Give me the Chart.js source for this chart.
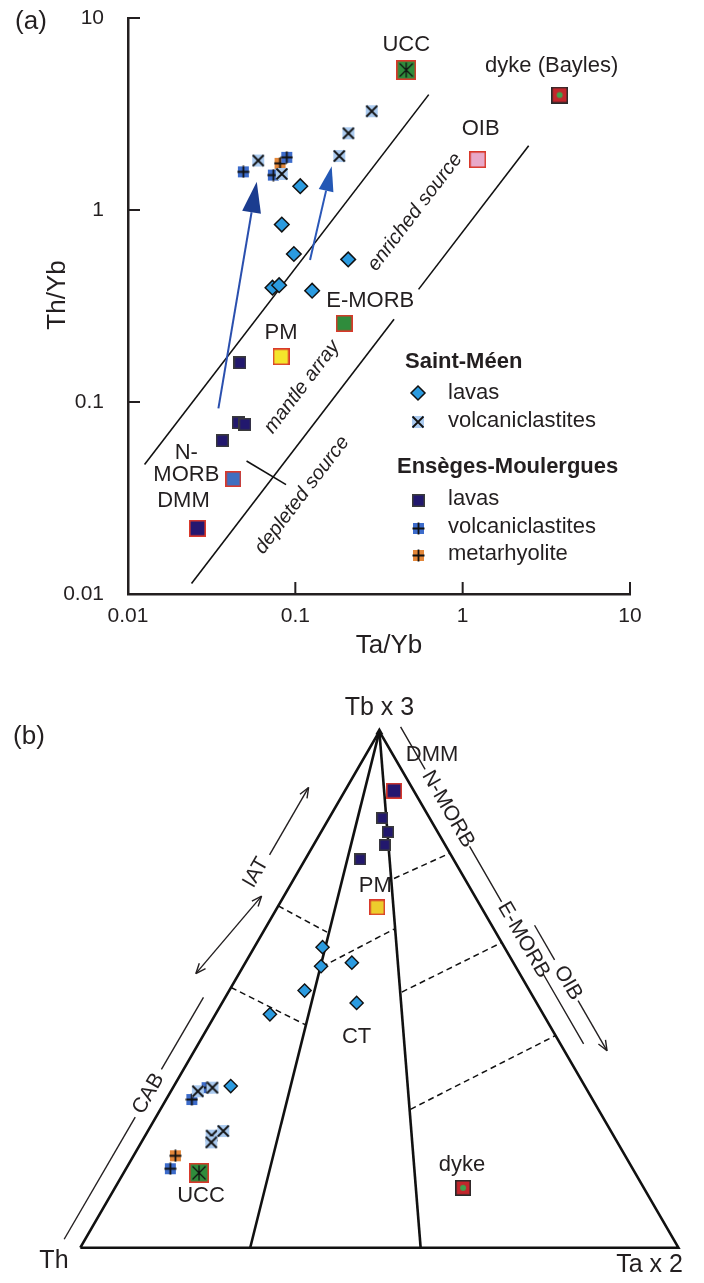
<!DOCTYPE html>
<html>
<head>
<meta charset="utf-8">
<title>Th/Yb vs Ta/Yb and Th - Tb x 3 - Ta x 2 diagrams</title>
<script src="https://cdn.jsdelivr.net/npm/chart.js@4.4.1/dist/chart.umd.min.js"></script>
<style>
  html, body { margin: 0; padding: 0; background: #fff; }
  .panel { position: absolute; left: 0; width: 704px; }
  #boxA { top: 0; height: 660px; }
  #boxB { top: 660px; height: 623px; }
</style>
</head>
<body>
<div class="panel" id="boxA"><canvas id="chartA"></canvas></div>
<div class="panel" id="boxB"><canvas id="chartB"></canvas></div>
<script>
// ---------- panel (a): Th/Yb vs Ta/Yb ----------
const axisTicks = [0.01, 0.1, 1, 10];
const axisTickLabels = ['0.01', '0.1', '1', '10'];

// Saint-Méen
const smLavaTa = [0.107, 0.083, 0.098, 0.207, 0.073, 0.080, 0.126];
const smLavaTh = [1.33, 0.84, 0.59, 0.553, 0.394, 0.406, 0.38];
const smVolcTa = [0.060, 0.083, 0.183, 0.2075, 0.286];
const smVolcTh = [1.81, 1.54, 1.91, 2.51, 3.27];
// Ensèges-Moulergues
const emLavaTa = [0.0467, 0.0456, 0.050, 0.0366];
const emLavaTh = [0.160, 0.078, 0.0765, 0.0629];
const emVolcTa = [0.0489, 0.0889, 0.0739];
const emVolcTh = [1.58, 1.88, 1.52];
const metaTa = [0.081];
const metaTh = [1.75];
// reference compositions
const refNames = ['UCC', 'dyke (Bayles)', 'OIB', 'E-MORB', 'PM', 'N-\nMORB', 'DMM'];
const refTa = [0.46, 3.80, 1.23, 0.196, 0.0821, 0.0426, 0.026];
const refTh = [5.36, 3.97, 1.83, 0.257, 0.172, 0.0397, 0.022];
// mantle array limits
const upperArrayTa = [0.01256, 0.627];
const upperArrayTh = [0.0473, 3.99];
const lowerArrayTa = [0.02397, 0.389];
const lowerArrayTh = [0.01133, 0.270];
const lowerArray2Ta = [0.545, 2.48];
const lowerArray2Th = [0.386, 2.16];
const splitTa = [0.0511, 0.0880];
const splitTh = [0.0493, 0.0371];
// blue trend arrows
const arrowTailTa = [0.0347, 0.1224];
const arrowTailTh = [0.0927, 0.549];
const arrowTipTa = [0.0588, 0.165];
const arrowTipTh = [1.405, 1.69];

// ---------- panel (b): Th - Tb x 3 - Ta x 2, as [Th, Tb*3, Ta*2] fractions ----------
const smLavaTern = [[0.304, 0.582, 0.114], [0.325, 0.545, 0.130], [0.270, 0.552, 0.178], [0.376, 0.498, 0.126],
                    [0.301, 0.474, 0.225], [0.457, 0.452, 0.091], [0.592, 0.313, 0.095]];
const smVolcTern = [[0.652, 0.303, 0.045], [0.624, 0.310, 0.066], [0.672, 0.217, 0.111], [0.648, 0.226, 0.126],
                    [0.679, 0.204, 0.117]];
const emLavaTern = [[0.079, 0.832, 0.089], [0.083, 0.805, 0.112], [0.101, 0.780, 0.119], [0.156, 0.752, 0.092]];
const emVolcTern = [[0.633, 0.310, 0.057], [0.670, 0.287, 0.043], [0.773, 0.153, 0.074]];
const metaTern = [[0.752, 0.178, 0.070]];
const refTernNames = ['DMM', 'PM', 'UCC', 'dyke'];
const refTern = [[0.033, 0.885, 0.082], [0.174, 0.659, 0.167], [0.729, 0.145, 0.126], [0.302, 0.116, 0.582]];
// field boundaries
const triangleTern = [[1, 0, 0], [0, 1, 0], [0, 0, 1], [1, 0, 0]];
const innerLinesTern = [[[0, 1, 0], [0.716, 0, 0.284]], [[0, 1, 0], [0.431, 0, 0.569]]];
const dashedTern = [
  [[0.338, 0.662, 0], [0.282, 0.611, 0.107]],
  [[0.496, 0.504, 0], [0.408, 0.432, 0.160]],
  [[0.324, 0.544, 0.132], [0.167, 0.617, 0.216]],
  [[0.118, 0.715, 0.167], [0, 0.764, 0.236]],
  [[0.215, 0.495, 0.290], [0, 0.591, 0.409]],
  [[0.314, 0.268, 0.418], [0, 0.411, 0.589]]
];

const FONT = '"Liberation Sans", Arial, Helvetica, sans-serif';
const INK = '#231f20';
const RED_EDGE = '#d9392b';

function makeMarker(size, draw) {
  const c = document.createElement('canvas');
  c.width = size; c.height = size;
  draw(c.getContext('2d'), size);
  return c;
}
function boxMarker(size, fill, edge, lw, extra) {
  return makeMarker(size, (g, s) => {
    g.fillStyle = fill;
    g.fillRect(0, 0, s, s);
    if (edge) { g.strokeStyle = edge; g.lineWidth = lw; g.strokeRect(lw / 2, lw / 2, s - lw, s - lw); }
    if (extra) extra(g, s);
  });
}
function crossMarker(size, fill, rotated) {
  return makeMarker(size, (g, s) => {
    g.fillStyle = fill;
    g.fillRect(1, 1, s - 2, s - 2);
    g.strokeStyle = '#111'; g.lineWidth = 1.8;
    g.beginPath();
    if (rotated) {
      g.moveTo(1.5, 1.5); g.lineTo(s - 1.5, s - 1.5);
      g.moveTo(s - 1.5, 1.5); g.lineTo(1.5, s - 1.5);
    } else {
      g.moveTo(s / 2, 0.5); g.lineTo(s / 2, s - 0.5);
      g.moveTo(0.5, s / 2); g.lineTo(s - 0.5, s / 2);
    }
    g.stroke();
  });
}
const uccStar = (g, s) => {
  g.strokeStyle = '#111'; g.lineWidth = 1.3;
  g.beginPath();
  g.moveTo(3.5, 3.5); g.lineTo(s - 3.5, s - 3.5);
  g.moveTo(s - 3.5, 3.5); g.lineTo(3.5, s - 3.5);
  g.moveTo(s / 2, 2.5); g.lineTo(s / 2, s - 2.5);
  g.stroke();
};
const dykeDot = (g, s) => {
  g.fillStyle = '#3fa34d';
  g.beginPath(); g.arc(s / 2, s / 2, 3, 0, Math.PI * 2); g.fill();
};

const mk = {
  smVolc: crossMarker(14, '#abcbf0', true),
  emVolc: crossMarker(13, '#3d6ccb', false),
  meta: crossMarker(13, '#e3873a', false),
  emLava: boxMarker(13, '#22186e', '#3a3a3a', 1.5),
  emLavaB: boxMarker(12, '#22186e', '#3a3a3a', 1.5)
};
const refMarkersA = [
  boxMarker(20, '#2f8c3c', RED_EDGE, 1.6, uccStar),
  boxMarker(17, '#c3262c', '#2a2a2a', 1.6, dykeDot),
  boxMarker(17, '#e8a9c9', RED_EDGE, 1.6),
  boxMarker(17, '#2f8c3c', RED_EDGE, 1.6),
  boxMarker(17, '#f5e52b', RED_EDGE, 1.6),
  boxMarker(16, '#3f6fc0', RED_EDGE, 1.6),
  boxMarker(17, '#251770', RED_EDGE, 1.6)
];
const refMarkersB = [
  boxMarker(16, '#251770', RED_EDGE, 1.6),
  boxMarker(16, '#edcd2c', RED_EDGE, 1.6),
  boxMarker(20, '#2f8c3c', RED_EDGE, 1.6, uccStar),
  boxMarker(16, '#c3262c', '#2a2a2a', 1.6, dykeDot)
];

const pairs = (xs, ys) => xs.map((v, i) => ({ x: v, y: ys[i] }));
const pointSet = (data, style, extra) => Object.assign({
  data, pointStyle: style, pointRadius: 7, showLine: false, order: 1
}, extra || {});
const lineSet = (data, extra) => Object.assign({
  data, showLine: true, pointRadius: 0, borderColor: '#111', borderWidth: 1.6, fill: false, order: 5
}, extra || {});

function text(ctx, str, x, y, opt) {
  opt = opt || {};
  ctx.save();
  ctx.font = opt.font || `22px ${FONT}`;
  ctx.fillStyle = INK;
  ctx.textAlign = opt.align || 'center';
  ctx.textBaseline = 'middle';
  ctx.translate(x, y);
  if (opt.rot) ctx.rotate(opt.rot * Math.PI / 180);
  const lines = String(str).split('\n');
  lines.forEach((t, i) => ctx.fillText(t, 0, (i - (lines.length - 1) / 2) * (opt.lh || 22)));
  ctx.restore();
}
function solidArrow(ctx, x1, y1, x2, y2, len, wid, shaft, head) {
  const a = Math.atan2(y2 - y1, x2 - x1);
  const bx = x2 - len * Math.cos(a), by = y2 - len * Math.sin(a);
  ctx.save();
  ctx.strokeStyle = shaft; ctx.lineWidth = 2;
  ctx.beginPath(); ctx.moveTo(x1, y1); ctx.lineTo(bx, by); ctx.stroke();
  ctx.fillStyle = head;
  ctx.beginPath();
  ctx.moveTo(x2, y2);
  ctx.lineTo(bx + wid / 2 * Math.sin(a), by - wid / 2 * Math.cos(a));
  ctx.lineTo(bx - wid / 2 * Math.sin(a), by + wid / 2 * Math.cos(a));
  ctx.closePath(); ctx.fill();
  ctx.restore();
}
// thin line with open arrow heads at the chosen ends
function thinArrow(ctx, p, q, headP, headQ) {
  ctx.beginPath(); ctx.moveTo(p[0], p[1]); ctx.lineTo(q[0], q[1]); ctx.stroke();
  const heads = [];
  if (headQ) heads.push([q, Math.atan2(q[1] - p[1], q[0] - p[0])]);
  if (headP) heads.push([p, Math.atan2(p[1] - q[1], p[0] - q[0])]);
  heads.forEach(([t, ang]) => {
    ctx.beginPath();
    [ang + Math.PI - 0.38, ang + Math.PI + 0.38].forEach(b => {
      ctx.moveTo(t[0], t[1]); ctx.lineTo(t[0] + 11 * Math.cos(b), t[1] + 11 * Math.sin(b));
    });
    ctx.stroke();
  });
}

// label offsets (pixels) for the reference points of panel (a)
const refLabelShiftA = [[0, -25], [-8, -29], [3, -31], [26, -22], [0, -24], [-47, -15], [-14, -27]];
const ARRAY_ANGLE = -52.6;

const panelADeco = {
  id: 'panelADeco',
  afterDatasetsDraw(chart) {
    const { ctx, scales: { x, y }, chartArea: ca } = chart;
    const px = v => x.getPixelForValue(v), py = v => y.getPixelForValue(v);
    // inward tick marks
    ctx.save();
    ctx.strokeStyle = INK; ctx.lineWidth = 2;
    ctx.beginPath();
    axisTicks.slice(1).forEach(v => {
      ctx.moveTo(ca.left, py(v)); ctx.lineTo(ca.left + 12, py(v));
      ctx.moveTo(px(v), ca.bottom); ctx.lineTo(px(v), ca.bottom - 12);
    });
    ctx.stroke();
    ctx.restore();
    // blue arrows
    solidArrow(ctx, px(arrowTailTa[0]), py(arrowTailTh[0]), px(arrowTipTa[0]), py(arrowTipTh[0]), 31, 19, '#2a4fae', '#1b3c8f');
    solidArrow(ctx, px(arrowTailTa[1]), py(arrowTailTh[1]), px(arrowTipTa[1]), py(arrowTipTh[1]), 25, 15, '#2a57b8', '#2458b5');
    // reference labels
    refNames.forEach((n, i) => {
      const [dx, dy] = refLabelShiftA[i];
      text(ctx, n, px(refTa[i]) + dx, py(refTh[i]) + dy);
    });
    // field names
    const it = `italic 20px ${FONT}`;
    text(ctx, 'mantle array', 302, 387, { font: it, rot: ARRAY_ANGLE });
    text(ctx, 'enriched source', 415, 212, { font: it, rot: ARRAY_ANGLE });
    text(ctx, 'depleted source', 302, 495, { font: it, rot: ARRAY_ANGLE });
    // axis titles and panel tag
    text(ctx, '(a)', 31, 22, { font: `26px ${FONT}` });
    text(ctx, 'Ta/Yb', 389, 646, { font: `26px ${FONT}` });
    text(ctx, 'Th/Yb', 58, 295, { font: `26px ${FONT}`, rot: -90 });
    // legend
    const bold = `bold 22px ${FONT}`, reg = `22px ${FONT}`;
    text(ctx, 'Saint-Méen', 405, 362, { font: bold, align: 'left' });
    text(ctx, 'Ensèges-Moulergues', 397, 467, { font: bold, align: 'left' });
    const rows = [
      ['lavas', 393, 'diamond'], ['volcaniclastites', 421, mk.smVolc],
      ['lavas', 499, mk.emLava], ['volcaniclastites', 527, mk.emVolc], ['metarhyolite', 554, mk.meta]
    ];
    rows.forEach(([t, yy, m]) => {
      text(ctx, t, 448, yy, { font: reg, align: 'left' });
      if (m === 'diamond') {
        ctx.save();
        ctx.fillStyle = '#2b9be0'; ctx.strokeStyle = '#111'; ctx.lineWidth = 1.5;
        ctx.beginPath();
        ctx.moveTo(418, yy - 7); ctx.lineTo(425, yy); ctx.lineTo(418, yy + 7); ctx.lineTo(411, yy);
        ctx.closePath(); ctx.fill(); ctx.stroke();
        ctx.restore();
      } else {
        ctx.drawImage(m, Math.round(418 - m.width / 2), Math.round(yy + 1 - m.height / 2));
      }
    });
  }
};

const tickStyle = {
  autoSkip: false, maxRotation: 0, minRotation: 0, color: INK,
  font: { family: FONT, size: 21 },
  callback: v => { const i = axisTicks.indexOf(v); return i < 0 ? '' : axisTickLabels[i]; }
};

new Chart(document.getElementById('chartA'), {
  type: 'scatter',
  data: {
    datasets: [
      pointSet(pairs(smLavaTa, smLavaTh), 'rectRot', { pointRadius: 7.3, backgroundColor: '#2b9be0', borderColor: '#111', borderWidth: 1.5 }),
      pointSet(pairs(smVolcTa, smVolcTh), mk.smVolc),
      pointSet(pairs(emVolcTa, emVolcTh), mk.emVolc),
      pointSet(pairs(metaTa, metaTh), mk.meta),
      pointSet(pairs(emLavaTa, emLavaTh), mk.emLava),
      pointSet(pairs(refTa, refTh), refMarkersA),
      lineSet(pairs(upperArrayTa, upperArrayTh)),
      lineSet(pairs(lowerArrayTa, lowerArrayTh)),
      lineSet(pairs(lowerArray2Ta, lowerArray2Th)),
      lineSet(pairs(splitTa, splitTh))
    ]
  },
  options: {
    responsive: true, maintainAspectRatio: false, animation: false, events: [],
    layout: { padding: { left: 0, top: 18, right: 74, bottom: 0 } },
    plugins: { legend: { display: false }, tooltip: { enabled: false } },
    scales: {
      x: {
        type: 'logarithmic', min: 0.01, max: 10,
        afterBuildTicks: s => { s.ticks = axisTicks.map(v => ({ value: v })); },
        afterFit: s => { s.height = 66; },
        grid: { display: false, drawTicks: false },
        border: { display: true, color: INK, width: 2.5 },
        ticks: Object.assign({ padding: 10 }, tickStyle)
      },
      y: {
        type: 'logarithmic', min: 0.01, max: 10,
        afterBuildTicks: s => { s.ticks = axisTicks.map(v => ({ value: v })); },
        afterFit: s => { s.width = 128; s.paddingTop = 0; s.paddingBottom = 0; },
        grid: { display: false, drawTicks: false },
        border: { display: true, color: INK, width: 2.5 },
        ticks: Object.assign({ padding: 24 }, tickStyle)
      }
    }
  },
  plugins: [panelADeco]
});

// ---------- panel (b) ----------
const SIDE = 612;                 // triangle side in pixels
const H3 = Math.sqrt(3) / 2;
function tern(c) {
  const s = c[0] + c[1] + c[2];
  const tb = c[1] / s, ta = c[2] / s;
  return { x: ta + tb / 2, y: tb * H3 };
}
const ternSet = arr => arr.map(tern);

// guide lines beside the triangle (diagram units for anchors, pixels along the guide)
const guidesRight = [
  { at: [0.5355, 0.8734], pieces: [[0, 49], [138, 202], [285, 366]], labels: [['N-MORB', 95], ['E-MORB', 246]] },
  { at: [0.7595, 0.5408], pieces: [[0, 40]], labels: [['OIB', 66.6]], arrow: [87, 145] }
];
const refLabelShiftB = [[38, -36], [-2, -21], [2, 23], [-1, -23]];

const panelBDeco = {
  id: 'panelBDeco',
  afterDatasetsDraw(chart) {
    const { ctx, scales: { x, y } } = chart;
    const P = (a, b) => [x.getPixelForValue(a), y.getPixelForValue(b)];
    ctx.save();
    ctx.strokeStyle = INK; ctx.lineWidth = 1.4;
    // right-hand guides, parallel to the Tb - Ta side
    const dR = [0.5, H3];
    guidesRight.forEach(g => {
      const [ox, oy] = P(g.at[0], g.at[1]);
      const at = s => [ox + s * dR[0], oy + s * dR[1]];
      ctx.beginPath();
      g.pieces.forEach(([s0, s1]) => { ctx.moveTo(...at(s0)); ctx.lineTo(...at(s1)); });
      ctx.stroke();
      g.labels.forEach(([t, s]) => text(ctx, t, ...at(s), { font: `21px ${FONT}`, rot: 60 }));
      if (g.arrow) thinArrow(ctx, at(g.arrow[0]), at(g.arrow[1]), false, true);
    });
    // left-hand guides (IAT, CAB)
    thinArrow(ctx, P(0.3817, 0.7719), P(0.3164, 0.6588), true, false);
    text(ctx, 'IAT', ...P(0.2936, 0.6291), { font: `21px ${FONT}`, rot: -60 });
    thinArrow(ctx, P(0.3031, 0.5897), P(0.1931, 0.4596), true, true);
    thinArrow(ctx, P(-0.0270, 0.0142), P(0.0918, 0.2190), false, false);
    text(ctx, 'CAB', ...P(0.1139, 0.2582), { font: `21px ${FONT}`, rot: -60 });
    thinArrow(ctx, P(0.1356, 0.2990), P(0.2059, 0.4199), false, false);
    ctx.restore();
    // small mark at the Tb apex
    const [ax, ay] = P(0.5, H3);
    ctx.save();
    ctx.fillStyle = '#111';
    ctx.beginPath(); ctx.moveTo(ax, ay - 4); ctx.lineTo(ax + 4, ay + 3); ctx.lineTo(ax - 4, ay + 3); ctx.closePath(); ctx.fill();
    ctx.restore();
    // point and field labels
    refTernNames.forEach((n, i) => {
      const p = tern(refTern[i]);
      const [dx, dy] = refLabelShiftB[i];
      text(ctx, n, x.getPixelForValue(p.x) + dx, y.getPixelForValue(p.y) + dy);
    });
    text(ctx, 'CT', ...P(0.4619, 0.3529));
    // apex labels
    text(ctx, 'Tb x 3', ...P(0.5, 0.9042), { font: `25px ${FONT}` });
    text(ctx, 'Th', ...P(-0.0441, -0.0217), { font: `25px ${FONT}` });
    text(ctx, 'Ta x 2', ...P(0.9518, -0.0299), { font: `25px ${FONT}` });
    text(ctx, '(b)', 29, 77, { font: `26px ${FONT}` });
  }
};

const bDatasets = [
  pointSet(ternSet(smLavaTern), 'rectRot', { pointRadius: 6.6, backgroundColor: '#2b9be0', borderColor: '#111', borderWidth: 1.4 }),
  pointSet(ternSet(smVolcTern), mk.smVolc),
  pointSet(ternSet(emVolcTern), mk.emVolc),
  pointSet(ternSet(metaTern), mk.meta),
  pointSet(ternSet(emLavaTern), mk.emLavaB),
  pointSet(ternSet(refTern), refMarkersB),
  lineSet(ternSet(triangleTern), { borderWidth: 2.6, borderJoinStyle: 'miter' })
];
innerLinesTern.forEach(l => bDatasets.push(lineSet(ternSet(l), { borderWidth: 2.6 })));
dashedTern.forEach(l => bDatasets.push(lineSet(ternSet(l), { borderWidth: 1.5, borderDash: [6, 4] })));

new Chart(document.getElementById('chartB'), {
  type: 'scatter',
  data: { datasets: bDatasets },
  options: {
    responsive: true, maintainAspectRatio: false, animation: false, events: [],
    layout: { padding: 0 },
    plugins: { legend: { display: false }, tooltip: { enabled: false } },
    scales: {
      x: { type: 'linear', display: false, min: -74 / SIDE, max: 630 / SIDE },
      y: { type: 'linear', display: false, min: -28 / SIDE, max: 595 / SIDE }
    }
  },
  plugins: [panelBDeco]
});
</script>
</body>
</html>
